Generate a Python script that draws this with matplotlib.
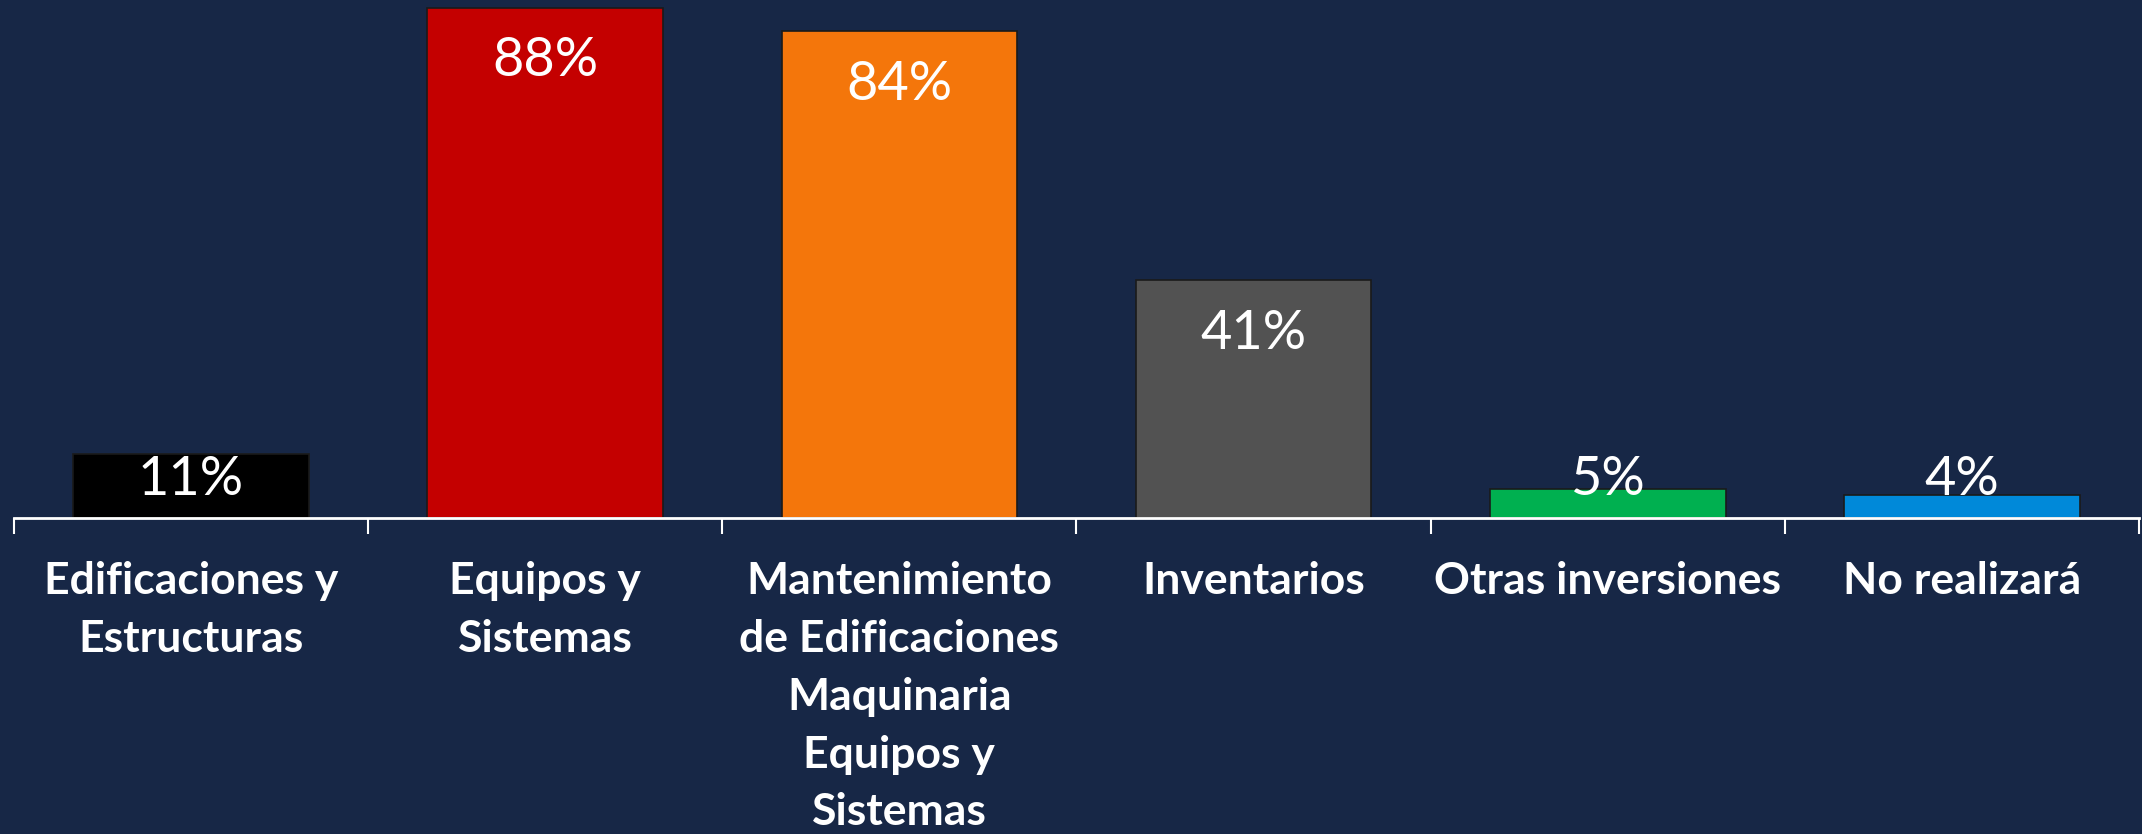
import matplotlib
matplotlib.use("Agg")
import matplotlib.pyplot as plt
import numpy as np

categories = ["Edificaciones y\nEstructuras", "Equipos y\nSistemas",
              "Mantenimiento\nde Edificaciones\nMaquinaria\nEquipos y\nSistemas",
              "Inventarios", "Otras inversiones", "No realizará"]
values = [11, 88, 84, 41, 5, 4]
labels = ["11%", "88%", "84%", "41%", "5%", "4%"]
colors = ["#000000", "#C40000", "#F4760B", "#525252", "#00B050", "#0089D9"]

BG = "#172746"
fig = plt.figure(figsize=(21.42, 8.34), dpi=100, facecolor=BG)
ax = fig.add_axes([14/2142, (834-518)/834, (2139-14)/2142, 518/834])
ax.set_facecolor(BG)

x = np.arange(len(values))
ax.bar(x, values, width=0.665, color=colors, edgecolor="#1a1a1a", linewidth=1.2, zorder=2)

ax.set_xlim(-0.5, len(values) - 0.5)
ax.set_ylim(0, 89.3)

for xi, v, lab in zip(x, values, labels):
    ax.text(xi, max(v - 9.2, 6.6), lab, ha="center", va="center", color="white",
            fontsize=39, family="Lato", zorder=3)

for s in ["left", "right", "top"]:
    ax.spines[s].set_visible(False)
ax.spines["bottom"].set_color("white")
ax.spines["bottom"].set_linewidth(2)
ax.set_yticks([])
ax.set_xticks(x)
ax.set_xticklabels(categories, fontsize=32, fontweight="bold", family="Lato",
                   color="white", linespacing=1.54)
ax.tick_params(axis="x", which="major", length=0, pad=31)
ax.set_xticks(np.arange(-0.5, len(values), 1.0), minor=True)
ax.tick_params(axis="x", which="minor", length=11.5, width=1.5, color="white")

fig.savefig("out.png", dpi=100, facecolor=BG)
